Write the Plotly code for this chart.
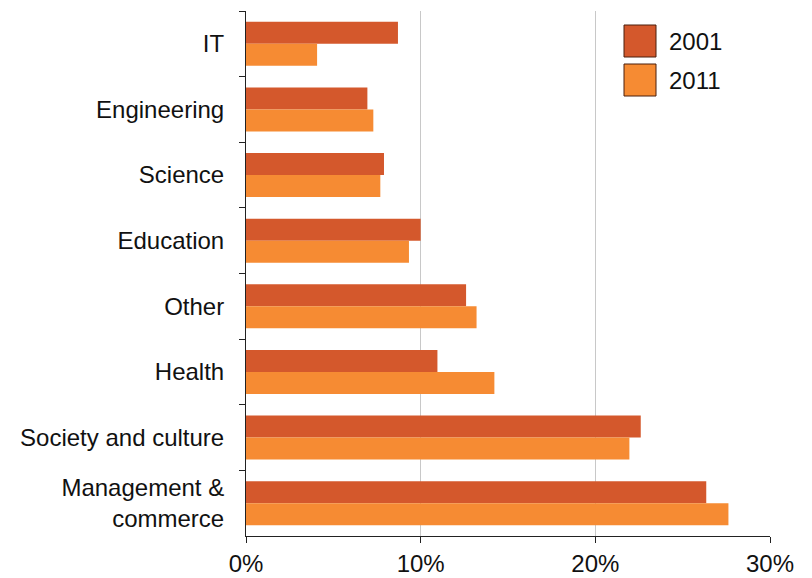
import plotly.graph_objects as go

categories = ["IT", "Engineering", "Science", "Education", "Other", "Health",
              "Society and culture", "Management &<br>commerce"]
values_2001 = [8.7, 6.95, 7.9, 10.0, 12.6, 10.96, 22.6, 26.35]
values_2011 = [4.07, 7.29, 7.69, 9.33, 13.2, 14.22, 21.95, 27.62]
x_ticks = [0, 10, 20, 30]
x_tick_labels = ["0%", "10%", "20%", "30%"]

c2001 = "#D4582C"
c2011 = "#F68B33"
FONT = "Liberation Sans, Arial, sans-serif"
FS = 24

# page body has an 8px margin: figure is placed at (8, 8)
W, H = 804, 570
ML, MR, MT, MB = 238, 42, 3, 42
PW, PH = W - ML - MR, H - MT - MB

fig = go.Figure()
fig.add_trace(go.Bar(y=categories, x=values_2001, orientation="h", name="2001",
                     marker=dict(color=c2001, line=dict(width=0))))
fig.add_trace(go.Bar(y=categories, x=values_2011, orientation="h", name="2011",
                     marker=dict(color=c2011, line=dict(width=0))))

fig.update_layout(
    width=W, height=H,
    margin=dict(l=ML, r=MR, t=MT, b=MB),
    paper_bgcolor="white", plot_bgcolor="white",
    barmode="group", bargap=0.33, bargroupgap=0,
    showlegend=False,
    font=dict(family=FONT, size=FS, color="#111111"),
)
fig.update_xaxes(range=[0, 30], tickvals=x_ticks, ticktext=x_tick_labels,
                 showgrid=True, gridcolor="#C8C8C8", gridwidth=1,
                 zeroline=False, showline=True, linecolor="#222222", linewidth=1,
                 ticks="outside", ticklen=6, tickcolor="#222222",
                 automargin=False,
                 tickfont=dict(size=FS, family=FONT))
fig.update_yaxes(autorange="reversed", showgrid=False, zeroline=False,
                 showline=True, linecolor="#222222", linewidth=1,
                 ticks="outside", ticklen=6, tickcolor="#222222",
                 tickson="boundaries", ticklabelstandoff=16,
                 automargin=False,
                 tickfont=dict(size=FS, family=FONT))

# Manual legend (page pixel positions -> paper coords)
def px_x(px):
    return (px - 8 - ML) / PW

def px_y(py):
    return 1 - (py - 8 - MT) / PH

legend_items = [("2001", c2001, 25, 57), ("2011", c2011, 64, 96)]
for name, col, y0, y1 in legend_items:
    fig.add_shape(type="rect", xref="paper", yref="paper",
                  x0=px_x(624), x1=px_x(656), y0=px_y(y1), y1=px_y(y0),
                  fillcolor=col, line=dict(color="#4a1f0c", width=1))
    fig.add_annotation(xref="paper", yref="paper", x=px_x(667),
                       y=px_y((y0 + y1) / 2), text=name,
                       showarrow=False, xanchor="left", yanchor="middle",
                       font=dict(size=FS, family=FONT, color="#111111"))

fig.write_html("out.html")
